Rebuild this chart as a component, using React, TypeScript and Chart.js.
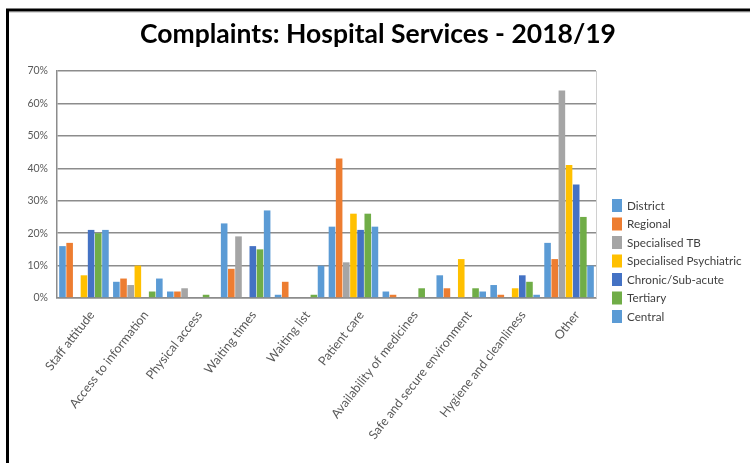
import React, { useEffect, useRef } from "react";
import { Chart, registerables } from "chart.js";

Chart.register(...registerables);

const categories = [
  "Staff attitude",
  "Access to information",
  "Physical access",
  "Waiting times",
  "Waiting list",
  "Patient care",
  "Availability of medicines",
  "Safe and secure environment",
  "Hygiene and cleanliness",
  "Other",
];

const seriesNames = [
  "District",
  "Regional",
  "Specialised TB",
  "Specialised Psychiatric",
  "Chronic/Sub-acute",
  "Tertiary",
  "Central",
];

const district = [16, 5, 2, 23, 1, 22, 2, 7, 4, 17];
const regional = [17, 6, 2, 9, 5, 43, 1, 3, 1, 12];
const specialisedTB = [0, 4, 3, 19, 0, 11, 0, 0, 0, 64];
const specialisedPsychiatric = [7, 10, 0, 0, 0, 26, 0, 12, 3, 41];
const chronicSubAcute = [21, 0, 0, 16, 0, 21, 0, 0, 7, 35];
const tertiary = [20, 2, 1, 15, 1, 26, 3, 3, 5, 25];
const central = [21, 6, 0, 27, 10, 22, 0, 2, 1, 10];

const yTicks = [0, 10, 20, 30, 40, 50, 60, 70];

const titleText = "Complaints: Hospital Services - 2018/19";

const colors = ["#5B9BD5", "#ED7D31", "#A5A5A5", "#FFC000", "#4472C4", "#70AD47", "#5B9BD5"];

const FONT = "Lato, 'Open Sans', sans-serif";

const framePlugin = {
  id: "frame",
  beforeDraw(chart: any) {
    const { ctx, width, height } = chart;
    ctx.save();
    ctx.fillStyle = "#ffffff";
    ctx.fillRect(0, 0, width, height);
    ctx.strokeStyle = "#d9d9d9";
    ctx.lineWidth = 1;
    ctx.beginPath();
    ctx.moveTo(8, 12.5);
    ctx.lineTo(width, 12.5);
    ctx.stroke();
    ctx.strokeStyle = "#000000";
    ctx.lineWidth = 3;
    ctx.beginPath();
    ctx.moveTo(7.5, height);
    ctx.lineTo(7.5, 10);
    ctx.lineTo(width, 10);
    ctx.stroke();
    // title
    ctx.fillStyle = "#000000";
    ctx.font = "bold 26.5px " + FONT;
    ctx.textAlign = "center";
    ctx.textBaseline = "middle";
    ctx.fillText(titleText, 378, 34);
    ctx.restore();
  },
  afterDraw(chart: any) {
    const { ctx, chartArea } = chart;
    ctx.save();
    ctx.strokeStyle = "#d0d0d0";
    ctx.lineWidth = 1;
    ctx.beginPath();
    ctx.moveTo(chartArea.right + 0.5, chartArea.top);
    ctx.lineTo(chartArea.right + 0.5, chartArea.bottom);
    ctx.stroke();
    // legend
    const x0 = 612;
    const y0 = 199;
    const step = 18.5;
    ctx.font = "11.7px " + FONT;
    ctx.textBaseline = "middle";
    ctx.textAlign = "left";
    chart.data.datasets.forEach((ds: any, i: number) => {
      const y = y0 + i * step;
      ctx.fillStyle = ds.backgroundColor;
      ctx.fillRect(x0, y, 10, 13);
      ctx.fillStyle = "#404040";
      ctx.fillText(ds.label, x0 + 15, y + 7);
    });
    ctx.restore();
  },
};

export default function App() {
  const ref = useRef<HTMLCanvasElement | null>(null);

  useEffect(() => {
    document.body.style.margin = "0";
    const seriesData = [
      district,
      regional,
      specialisedTB,
      specialisedPsychiatric,
      chronicSubAcute,
      tertiary,
      central,
    ];
    const chart = new Chart(ref.current as HTMLCanvasElement, {
      type: "bar",
      data: {
        labels: categories,
        datasets: seriesNames.map((name, i) => ({
          label: name,
          data: seriesData[i],
          backgroundColor: colors[i],
          borderWidth: 0,
          barPercentage: 0.92,
          categoryPercentage: 0.93,
        })),
      },
      options: {
        animation: false,
        responsive: false,
        maintainAspectRatio: false,
        layout: { padding: { left: 0, right: 154, top: 71, bottom: 0 } },
        plugins: {
          legend: { display: false },
          tooltip: { enabled: false },
          title: { display: false },
        },
        scales: {
          x: {
            grid: { display: false },
            border: { display: true, color: "#8c8c8c", width: 1.5 },
            ticks: {
              color: "#595959",
              font: { family: FONT, size: 12.5 },
              minRotation: 52,
              maxRotation: 52,
              autoSkip: false,
              padding: 2,
              labelOffset: 8,
            },
            afterFit(scale: any) {
              scale.height = 165;
            },
          },
          y: {
            min: 0,
            max: 70,
            afterBuildTicks(scale: any) {
              scale.ticks = yTicks.map((v) => ({ value: v }));
            },
            grid: { color: "#8c8c8c", lineWidth: 1.5, drawTicks: false },
            border: { display: true, color: "#8c8c8c", width: 1.5 },
            ticks: {
              color: "#595959",
              font: { family: FONT, size: 10.5 },
              padding: 9,
              callback: (v: any) => v + "%",
            },
            afterFit(scale: any) {
              scale.width = 57;
            },
          },
        },
      },
      plugins: [framePlugin],
    });
    return () => chart.destroy();
  }, []);

  return (
    <div style={{ width: 750, height: 463 }}>
      <canvas ref={ref} width={750} height={463} style={{ display: "block" }} />
    </div>
  );
}
